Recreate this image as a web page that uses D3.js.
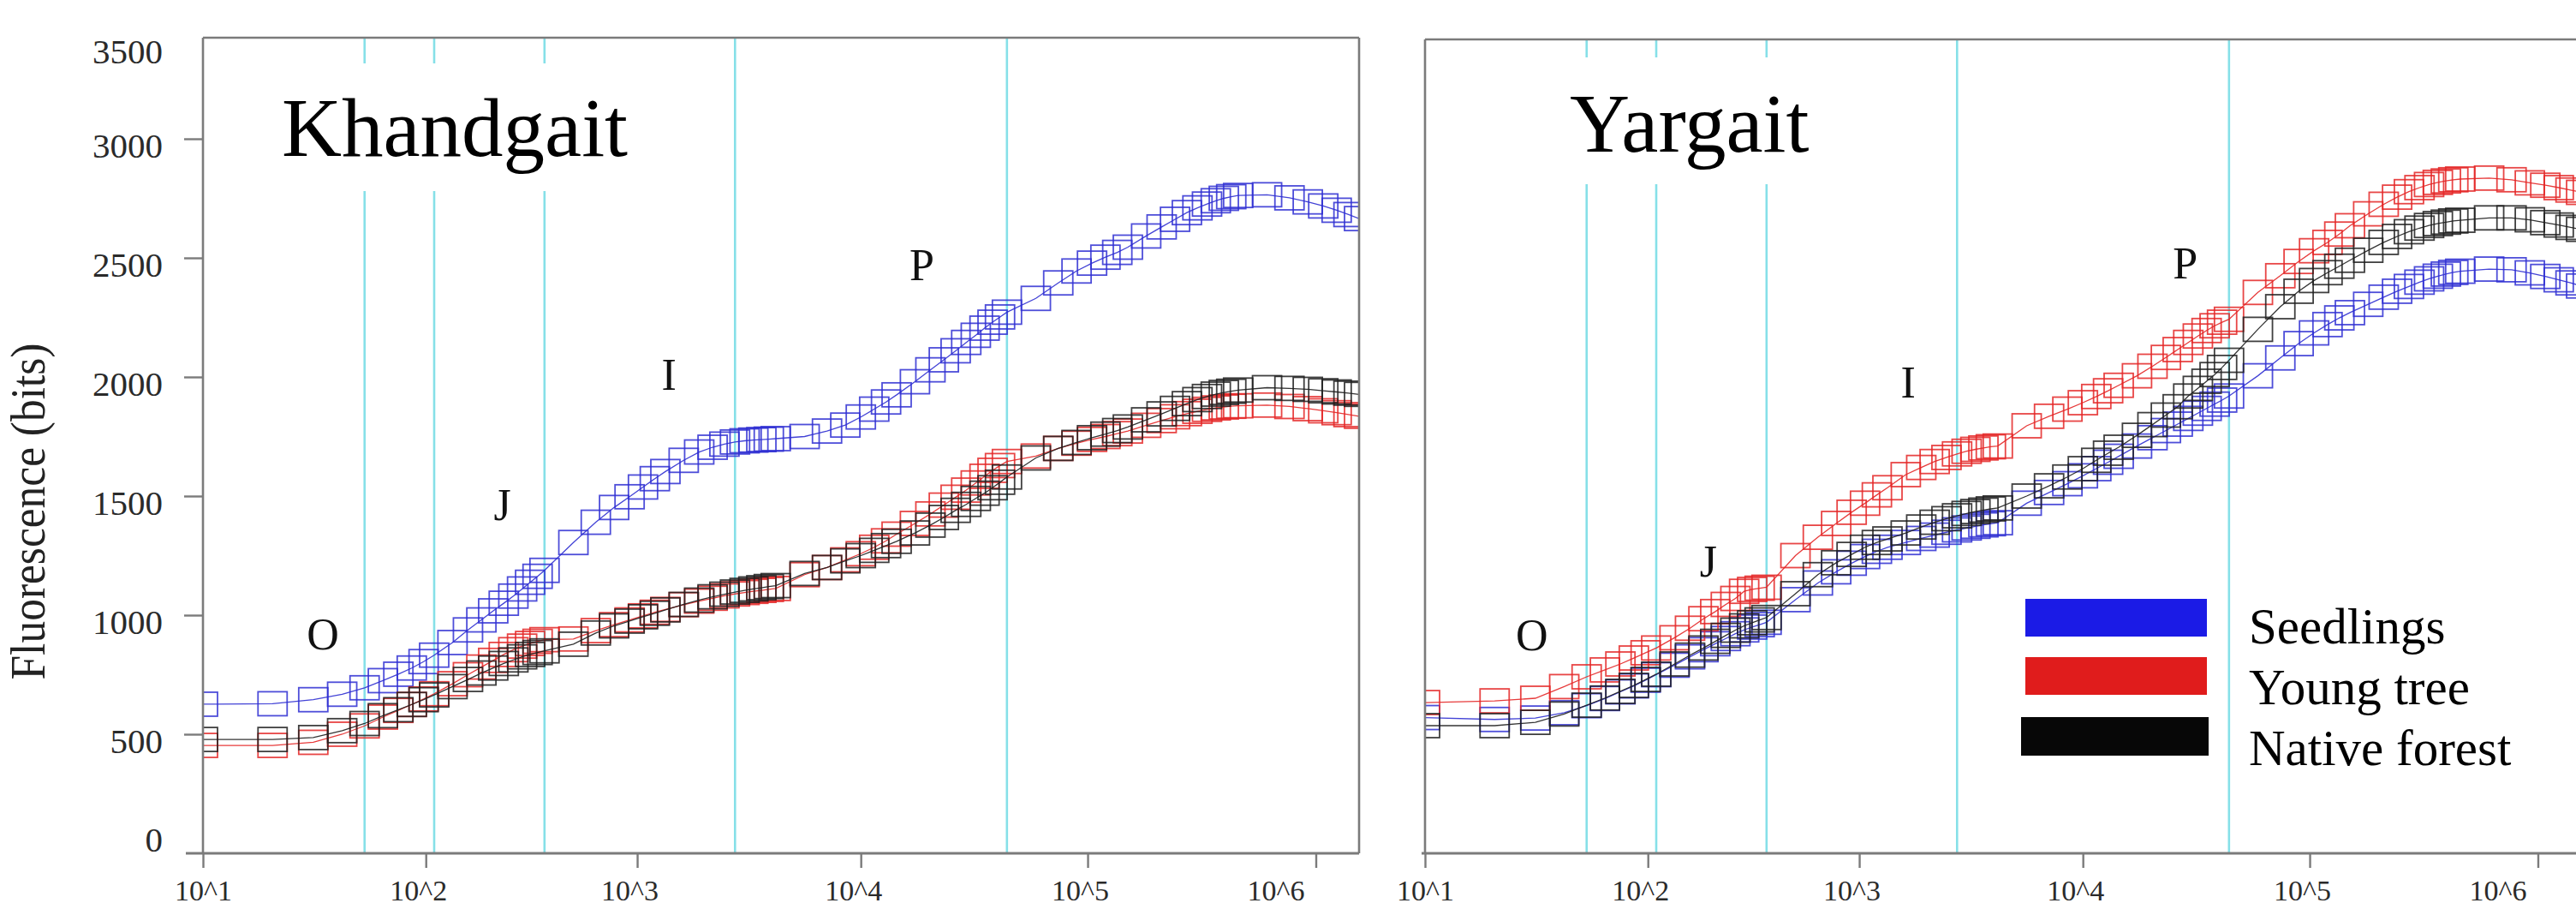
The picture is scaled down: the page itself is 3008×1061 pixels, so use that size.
<!DOCTYPE html>
<html>
<head>
<meta charset="utf-8">
<script src="https://cdn.jsdelivr.net/npm/d3@7/dist/d3.min.js"></script>
<style>
  html, body { margin: 0; padding: 0; background: #ffffff; }
  svg { display: block; }
  text { font-family: "Liberation Serif", "Times New Roman", "DejaVu Serif", serif; }
</style>
</head>
<body>
<svg id="chart" width="3008" height="1061"></svg>
<script>
// ---------------- DATA ----------------
// time points (µs)
const times = [10,20,30,40,50,60,70,80,90,
  100,120,140,160,180,200,220,240,260,280,300,
  400,500,600,700,800,900,1000,1200,1400,1600,1800,2000,2200,2400,2600,2800,3000,
  4000,5000,6000,7000,8000,9000,10000,12000,14000,16000,18000,20000,22000,24000,26000,28000,30000,
  40000,50000,60000,70000,80000,90000,100000,120000,140000,160000,180000,200000,220000,240000,260000,280000,300000,
  400000,500000,600000,700000,800000,900000,1000000];

const seriesNames = ["Seedlings", "Young tree", "Native forest"];

// Khandgait
const khandgaitSeedlings = [626,628,645,668,695,725,752,778,805,
  832,885,938,980,1018,1050,1080,1110,1138,1163,1188,
  1305,1390,1452,1497,1538,1573,1603,1650,1685,1705,1718,1727,1732,1735,1737,1739,1741,
  1750,1773,1798,1832,1865,1895,1925,1980,2030,2072,2110,2145,2175,2205,2230,2252,2272,
  2330,2395,2445,2478,2503,2523,2545,2592,2630,2662,2690,2710,2726,2740,2750,2757,2762,
  2765,2752,2735,2718,2700,2682,2665];
const khandgaitYoungTree = [453,453,466,500,535,572,600,625,648,
  670,712,750,782,810,835,855,870,881,890,897,
  900,935,960,980,997,1012,1024,1044,1059,1071,1081,1089,1095,1100,1104,1108,1112,
  1170,1200,1232,1258,1285,1312,1340,1385,1425,1462,1495,1525,1555,1583,1608,1628,1645,
  1668,1700,1722,1738,1750,1762,1773,1797,1817,1833,1846,1856,1864,1870,1874,1877,1879,
  1882,1876,1867,1858,1850,1842,1835];
const khandgaitNativeForest = [478,478,486,515,545,578,603,625,645,
  665,700,730,757,778,797,812,825,835,843,850,
  878,925,955,975,993,1008,1022,1045,1063,1077,1088,1097,1104,1110,1115,1120,1124,
  1175,1200,1228,1250,1272,1292,1310,1345,1378,1410,1440,1465,1490,1512,1535,1558,1580,
  1660,1700,1725,1745,1760,1775,1790,1820,1845,1868,1888,1905,1918,1928,1935,1940,1945,
  1955,1952,1948,1942,1937,1932,1927];

// Yargait
const yargaitSeedlings = [570,562,568,590,620,650,678,703,727,
  750,790,825,855,880,902,922,938,950,960,970,
  1065,1135,1182,1218,1246,1268,1285,1305,1322,1336,1348,1358,1366,1373,1379,1384,1388,
  1470,1515,1552,1585,1615,1642,1667,1710,1745,1775,1802,1826,1848,1868,1886,1903,1920,
  2005,2080,2140,2185,2220,2248,2270,2305,2335,2360,2380,2398,2412,2423,2432,2439,2444,
  2453,2450,2437,2422,2408,2395,2382];
const yargaitYoungTree = [633,640,651,700,741,770,795,820,842,
  862,905,945,985,1015,1045,1070,1100,1108,1113,1117,
  1250,1327,1385,1432,1470,1505,1535,1590,1620,1645,1662,1677,1688,1696,1702,1707,1710,
  1795,1835,1865,1892,1918,1942,1965,2005,2045,2082,2115,2145,2172,2195,2215,2230,2242,
  2355,2425,2485,2530,2565,2600,2635,2685,2725,2755,2778,2795,2808,2817,2823,2828,2831,
  2835,2828,2815,2805,2795,2785,2775];
const yargaitNativeForest = [536,536,550,585,622,652,680,705,730,
  752,795,832,862,890,915,937,955,968,980,990,
  1090,1170,1220,1255,1285,1305,1320,1345,1370,1390,1405,1417,1427,1435,1441,1446,1450,
  1500,1543,1580,1615,1650,1680,1705,1755,1800,1840,1875,1920,1952,1982,2010,2040,2070,
  2200,2295,2360,2405,2438,2465,2490,2532,2565,2590,2610,2625,2636,2644,2650,2655,2658,
  2668,2668,2660,2648,2638,2628,2620];

// phase marker times (µs) drawn as cyan lines
const phaseTimes = [50, 100, 300, 2000, 30000];

// axis ticks
const yTicks = [0, 500, 1000, 1500, 2000, 2500, 3000, 3500];
const xTickValues = [10, 92, 755, 7000, 67000, 650000];
const xTickLabels = ["10^1", "10^2", "10^3", "10^4", "10^5", "10^6"];

// phase labels: [label, time, value]
const khandgaitPhaseLabels = [["O", 33, 921], ["J", 197, 1464], ["I", 1036, 2011], ["P", 12850, 2471]];
const yargaitPhaseLabels = [["O", 29, 917], ["J", 168, 1227], ["I", 1228, 1978], ["P", 19400, 2478]];

// ---------------- LAYOUT / STYLE ----------------
const colors = { "Seedlings": "#2f2fd2", "Young tree": "#e42626", "Native forest": "#1e1e1e" };
const legendColors = { "Seedlings": "#1b1be6", "Young tree": "#e01c1c", "Native forest": "#070707" };
const frameColor = "#7b7b7b";
const cyan = "#86e0e8";
const BOTTOM = 996;

const svg = d3.select("#chart");
const y = d3.scaleLinear().domain([0, 3500]).range([996, 23]);

const panels = [
  { id: "L", title: "Khandgait", x0: 237, x1: 1587, top: 44, titlePos: [329, 182], titleBox: [320, 74, 425, 149],
    series: [khandgaitSeedlings, khandgaitYoungTree, khandgaitNativeForest], phases: khandgaitPhaseLabels, yAxis: true },
  { id: "R", title: "Yargait", x0: 1664, x1: 3014, top: 46, titlePos: [1833, 177], titleBox: [1815, 67, 310, 148],
    series: [yargaitSeedlings, yargaitYoungTree, yargaitNativeForest], phases: yargaitPhaseLabels, yAxis: false }
];

const defs = svg.append("defs");

panels.forEach(p => {
  const x = d3.scaleLog().domain([10, 1e6]).range([p.x0, p.x1]);
  const g = svg.append("g");

  defs.append("clipPath").attr("id", "clip" + p.id)
    .append("rect").attr("x", p.x0).attr("y", p.top).attr("width", p.x1 - p.x0).attr("height", BOTTOM - p.top);

  // cyan phase lines
  g.append("g").selectAll("line").data(phaseTimes).join("line")
    .attr("x1", d => x(d)).attr("x2", d => x(d))
    .attr("y1", p.top).attr("y2", BOTTOM)
    .attr("stroke", cyan).attr("stroke-width", 2.6);

  // white box behind the title
  g.append("rect").attr("x", p.titleBox[0]).attr("y", p.titleBox[1])
    .attr("width", p.titleBox[2]).attr("height", p.titleBox[3]).attr("fill", "#fff");

  // curves
  const plot = g.append("g").attr("clip-path", `url(#clip${p.id})`);
  p.series.forEach((vals, si) => {
    const name = seriesNames[si];
    const pts = times.map((t, i) => [t, vals[i]]);
    const line = d3.line().x(d => x(d[0])).y(d => y(d[1]));
    const sg = plot.append("g");
    sg.append("path").attr("d", line(pts)).attr("fill", "none")
      .attr("stroke", colors[name]).attr("stroke-width", 1.3).attr("opacity", 0.9);
    sg.selectAll("rect").data(pts).join("rect")
      .attr("x", d => x(d[0]) - 17).attr("y", d => y(d[1]) - 14)
      .attr("width", 34).attr("height", 28)
      .attr("fill", "none").attr("stroke", colors[name]).attr("stroke-width", 1.8)
      .attr("stroke-opacity", 0.85);
  });

  // frame
  const fr = g.append("g").attr("stroke", frameColor).attr("stroke-width", 2.6).attr("fill", "none");
  fr.append("line").attr("x1", p.x0).attr("x2", p.x1).attr("y1", p.top).attr("y2", p.top);
  fr.append("line").attr("x1", p.x0).attr("x2", p.x0).attr("y1", p.top).attr("y2", BOTTOM);
  fr.append("line").attr("x1", p.x1).attr("x2", p.x1).attr("y1", p.top).attr("y2", BOTTOM);

  // x axis
  const xa = g.append("g").attr("transform", `translate(0,${BOTTOM})`)
    .call(d3.axisBottom(x).tickValues(xTickValues).tickFormat((d, i) => xTickLabels[i])
      .tickSize(17).tickPadding(14));
  xa.select(".domain").remove();
  xa.append("line").attr("x1", p.yAxis ? p.x0 - 20 : p.x0 - 4).attr("x2", Math.min(p.x1, 3008))
    .attr("y1", 0).attr("y2", 0).attr("stroke", frameColor).attr("stroke-width", 3);
  xa.selectAll(".tick line").attr("stroke", frameColor).attr("stroke-width", 2.4);
  xa.selectAll(".tick text").attr("fill", "#2a2a2a").attr("font-size", 34)
    .attr("font-family", '"Liberation Serif", "Times New Roman", serif')
    .attr("dx", (d, i) => i === xTickValues.length - 1 ? -47 : (i === 0 ? 0 : -9));

  // y axis (left panel only)
  if (p.yAxis) {
    const ya = g.append("g").attr("transform", `translate(${p.x0},0)`)
      .call(d3.axisLeft(y).tickValues(yTicks).tickFormat(d3.format("d")).tickSize(22).tickPadding(25));
    ya.select(".domain").remove();
    ya.selectAll(".tick line").attr("stroke", frameColor).attr("stroke-width", 2.4)
      .attr("display", d => (d === 3500 || d === 0) ? "none" : null);
    ya.selectAll(".tick text").attr("fill", "#2a2a2a").attr("font-size", 41)
      .attr("font-family", '"Liberation Serif", "Times New Roman", serif')
      .attr("dy", d => d === 3500 ? "1.22em" : (d === 0 ? "-0.05em" : "0.52em"));
  }

  // title
  g.append("text").attr("x", p.titlePos[0]).attr("y", p.titlePos[1])
    .attr("font-size", 97).attr("fill", "#000").text(p.title);

  // phase labels
  g.append("g").selectAll("text").data(p.phases).join("text")
    .attr("x", d => x(d[1])).attr("y", d => y(d[2]) + 18)
    .attr("text-anchor", "middle").attr("font-size", 52).attr("fill", "#111")
    .text(d => d[0]);
});

// y-axis title
svg.append("text").attr("transform", "translate(52,597) rotate(-90)")
  .attr("text-anchor", "middle").attr("font-size", 56).attr("fill", "#222")
  .attr("textLength", 393).attr("lengthAdjust", "spacingAndGlyphs")
  .text("Fluorescence (bits)");

// legend
const legend = svg.append("g");
const legendRows = [
  { name: "Seedlings", rect: [2365, 699, 212, 44], base: 751 },
  { name: "Young tree", rect: [2365, 767, 212, 44], base: 822 },
  { name: "Native forest", rect: [2360, 837, 219, 45], base: 893 }
];
legendRows.forEach(r => {
  legend.append("rect").attr("x", r.rect[0]).attr("y", r.rect[1])
    .attr("width", r.rect[2]).attr("height", r.rect[3]).attr("fill", legendColors[r.name]);
  legend.append("text").attr("x", 2626).attr("y", r.base).attr("font-size", 59)
    .attr("fill", "#000").text(r.name);
});
</script>
</body>
</html>
